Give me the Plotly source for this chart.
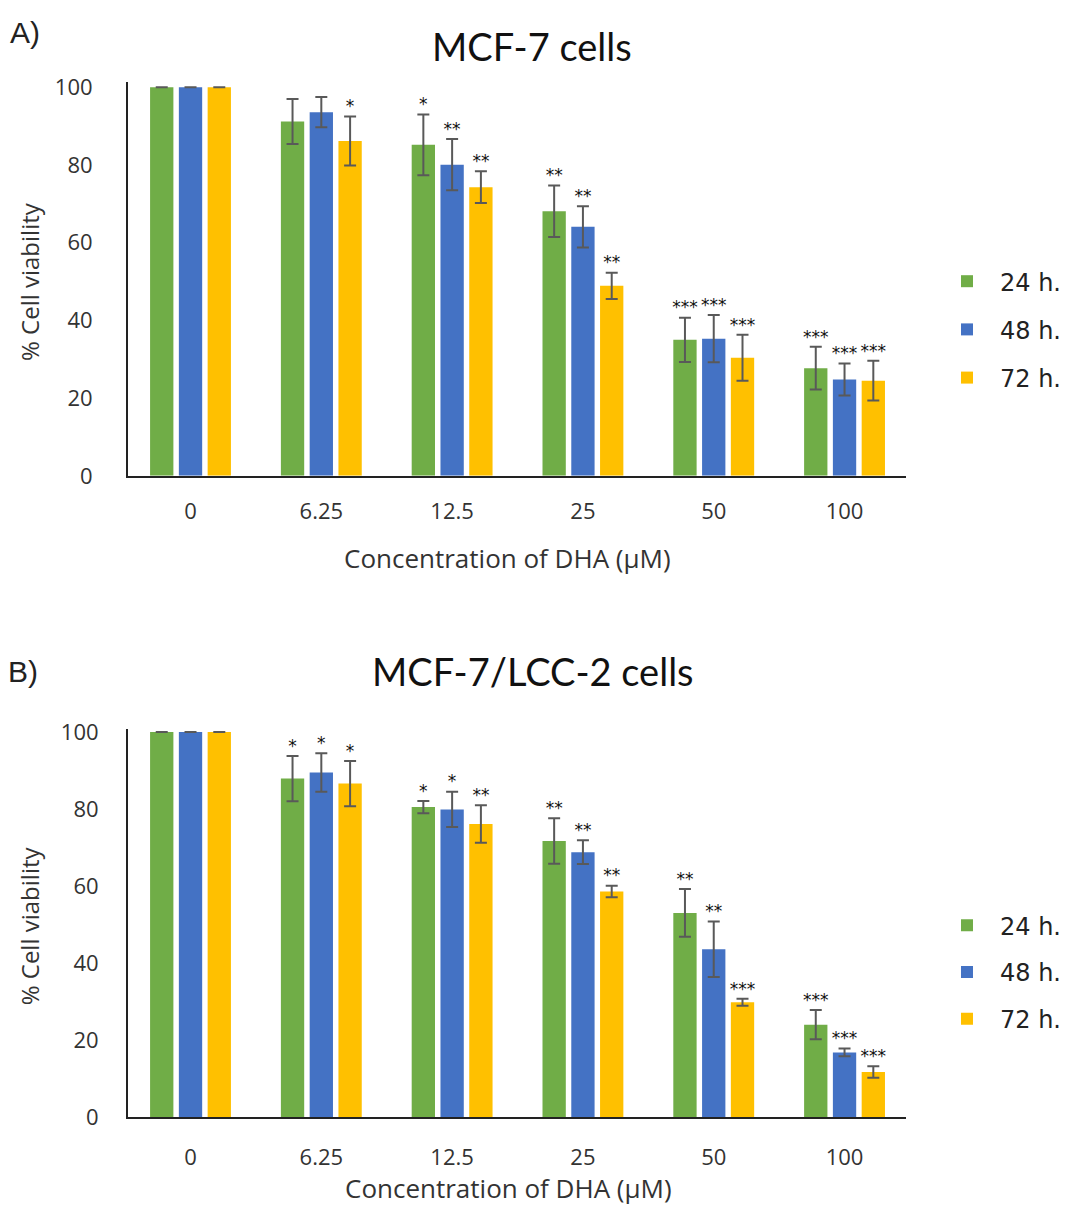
import plotly.graph_objects as go

categories = ["0", "6.25", "12.5", "25", "50", "100"]
series_names = ["24 h.", "48 h.", "72 h."]
colors = ["#70AD47", "#4472C4", "#FFC000"]

# Panel A: MCF-7 cells
a_24 = [100, 91.2, 85.2, 68.1, 35.0, 27.7]
a_48 = [100, 93.6, 80.1, 64.1, 35.3, 24.8]
a_72 = [100, 86.2, 74.3, 48.9, 30.4, 24.5]
a_24_err = [0, 5.8, 7.8, 6.6, 5.7, 5.5]
a_48_err = [0, 3.9, 6.6, 5.3, 6.1, 4.1]
a_72_err = [0, 6.3, 4.1, 3.4, 5.9, 5.1]
a_24_sig = ["", "", "*", "**", "***", "***"]
a_48_sig = ["", "", "**", "**", "***", "***"]
a_72_sig = ["", "*", "**", "**", "***", "***"]

# Panel B: MCF-7/LCC-2 cells
b_24 = [100, 87.9, 80.5, 71.7, 53.0, 24.0]
b_48 = [100, 89.5, 79.9, 68.8, 43.6, 16.8]
b_72 = [100, 86.6, 76.1, 58.6, 29.8, 11.7]
b_24_err = [0, 5.9, 1.6, 5.9, 6.2, 3.8]
b_48_err = [0, 5.0, 4.6, 3.1, 7.2, 1.0]
b_72_err = [0, 5.9, 4.85, 1.5, 0.9, 1.5]
b_24_sig = ["", "*", "*", "**", "**", "***"]
b_48_sig = ["", "*", "*", "**", "**", "***"]
b_72_sig = ["", "*", "**", "**", "***", "***"]

yticks = [0, 20, 40, 60, 80, 100]

TICKFONT = "Open Sans, sans-serif"
TITLEFONT = "Lato, Open Sans, sans-serif"
LEGFONT = "DejaVu Sans, sans-serif"

fig = go.Figure()

panels = [
    dict(key="a", vals=[a_24, a_48, a_72], errs=[a_24_err, a_48_err, a_72_err],
         sigs=[a_24_sig, a_48_sig, a_72_sig], xa="x", ya="y", legend="legend"),
    dict(key="b", vals=[b_24, b_48, b_72], errs=[b_24_err, b_48_err, b_72_err],
         sigs=[b_24_sig, b_48_sig, b_72_sig], xa="x2", ya="y2", legend="legend2"),
]

for p in panels:
    for i, name in enumerate(series_names):
        og = f"{p['key']}_{i}"
        fig.add_trace(go.Bar(
            x=categories, y=p["vals"][i], name=name,
            marker=dict(color=colors[i], line=dict(width=0)),
            error_y=dict(type="data", array=p["errs"][i], visible=True,
                         color="#595959", thickness=2, width=6),
            xaxis=p["xa"], yaxis=p["ya"], offsetgroup=og,
            legend=p["legend"], legendgroup=og, showlegend=True,
        ))
    for i, name in enumerate(series_names):
        og = f"{p['key']}_{i}"
        tops = [v + e for v, e in zip(p["vals"][i], p["errs"][i])]
        fig.add_trace(go.Scatter(
            x=categories, y=tops, text=p["sigs"][i], mode="text",
            textposition="top center",
            textfont=dict(size=17, color="#111111", family="DejaVu Sans"),
            xaxis=p["xa"], yaxis=p["ya"], offsetgroup=og,
            showlegend=False, hoverinfo="skip", cliponaxis=False,
        ))

xdom = [0.1111, 0.8315]


def xaxis_cfg(standoff):
    return dict(
        type="category", range=[-0.478, 5.47], domain=xdom,
        showline=True, linecolor="#222222", linewidth=2,
        showgrid=False, ticks="", zeroline=False,
        tickfont=dict(size=22, color="#333333", family=TICKFONT),
        ticklabelstandoff=standoff, fixedrange=True,
    )


def yaxis_cfg(standoff, rng, dom, anchor):
    return dict(
        showline=True, linecolor="#222222", linewidth=2,
        showgrid=False, ticks="", zeroline=False,
        tickvals=yticks, ticktext=[str(t) for t in yticks],
        tickfont=dict(size=22, color="#333333", family=TICKFONT),
        ticklabelstandoff=standoff, range=rng, domain=dom, anchor=anchor,
    )


fig.update_layout(
    width=1080, height=1208,
    margin=dict(l=0, r=0, t=0, b=0),
    paper_bgcolor="white", plot_bgcolor="white",
    barmode="group", bargap=0.34, bargroupgap=0.19,
    scattermode="group", scattergap=0.34,
    xaxis=dict(xaxis_cfg(15), anchor="y"),
    yaxis=yaxis_cfg(29, [0, 101.3], [0.6149, 0.9481], "x"),
    xaxis2=dict(xaxis_cfg(20), anchor="y2"),
    yaxis2=yaxis_cfg(23, [0, 100.84], [0.0719, 0.4007], "x2"),
    legend=dict(x=0.8574, y=0.7387, xanchor="left", yanchor="middle",
                font=dict(size=24, color="#222222", family=LEGFONT),
                bgcolor="rgba(0,0,0,0)", tracegroupgap=14, itemwidth=56,
                borderwidth=0),
    legend2=dict(x=0.8574, y=0.1946, xanchor="left", yanchor="middle",
                 font=dict(size=24, color="#222222", family=LEGFONT),
                 bgcolor="rgba(0,0,0,0)", tracegroupgap=12.5, itemwidth=56,
                 borderwidth=0),
    showlegend=True,
)

# annotation positions in figure pixels (x from left, y from top)
annotations = [
    dict(text="A)", x=17, y=12, font=dict(size=30, color="#222222", family="Liberation Sans Narrow, Liberation Sans")),
    dict(text="MCF-7 cells", x=524, y=0, anchor="top", font=dict(size=38, color="#111111", family=TITLEFONT)),
    dict(text="B)", x=15, y=665, font=dict(size=30, color="#222222", family="Liberation Sans Narrow, Liberation Sans")),
    dict(text="MCF-7/LCC-2 cells", x=525, y=665, font=dict(size=38, color="#111111", family=TITLEFONT)),
    dict(text="Concentration of DHA (μM)", x=499, y=549, font=dict(size=26, color="#333333", family=TICKFONT)),
    dict(text="Concentration of DHA (μM)", x=500, y=1194, font=dict(size=26, color="#333333", family=TICKFONT)),
    dict(text="% Cell viability", x=21, y=267, textangle=-90, font=dict(size=24, color="#333333", family=TICKFONT)),
    dict(text="% Cell viability", x=21, y=926, textangle=-90, font=dict(size=24, color="#333333", family=TICKFONT)),
]
for a in annotations:
    fig.add_annotation(
        text=a["text"], x=a["x"] / 1080, y=1 - a["y"] / 1208,
        xref="paper", yref="paper", showarrow=False,
        xanchor="center", yanchor=a.get("anchor", "middle"),
        textangle=a.get("textangle", 0), font=a["font"],
    )

fig.write_html("out.html")
